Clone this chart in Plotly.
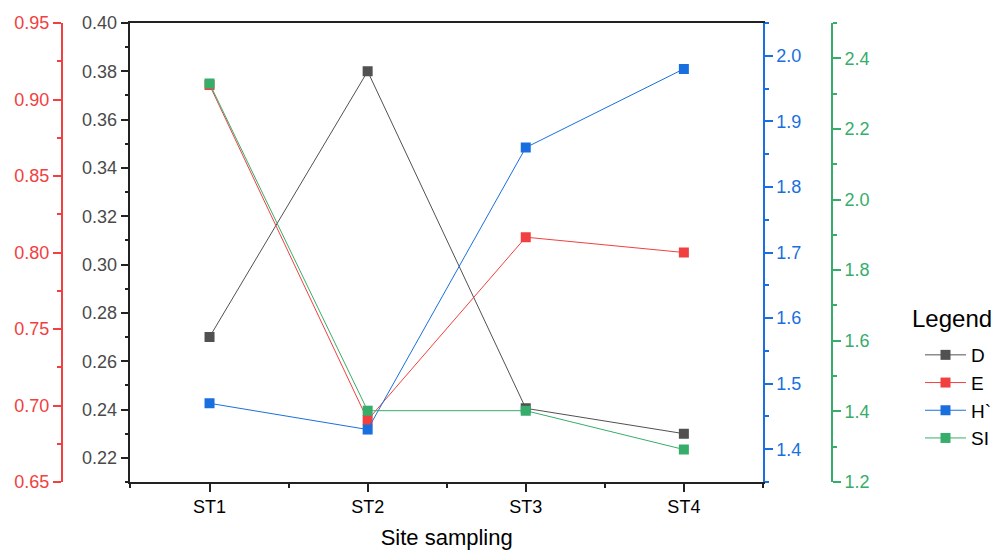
import plotly.graph_objects as go

sites = ["ST1", "ST2", "ST3", "ST4"]
D = [0.270, 0.380, 0.2405, 0.230]
E = [0.9095, 0.6905, 0.810, 0.800]
H = [1.470, 1.430, 1.860, 1.980]
SI = [2.329, 1.402, 1.402, 1.292]

C_D = "#515151"
C_E = "#F14040"
C_H = "#1A6FDF"
C_SI = "#37AD6B"

W, Hh = 997, 550
px0, px1 = 131, 766
py0, py1 = 23, 482
FONT = "Liberation Sans, Arial, sans-serif"

xpos = list(range(len(sites)))

fig = go.Figure()
def add(name, vals, color, yax):
    fig.add_trace(go.Scatter(
        x=xpos, y=vals, name=name, mode="lines+markers", yaxis=yax,
        line=dict(color=color, width=1),
        marker=dict(symbol="square", size=10, color=color, line=dict(width=0)),
    ))

add("D", D, C_D, "y")
add("E", E, C_E, "y2")
add("H`", H, C_H, "y3")
add("SI", SI, C_SI, "y4")

def yax(color, rng, dtick, mdtick, tick0, side, **kw):
    d = dict(
        range=rng, dtick=dtick, tick0=tick0, tickformat=kw.pop("fmt", ".2f"),
        showline=True, linecolor=color, linewidth=1.5,
        ticks="outside", ticklen=8, tickwidth=1.5, tickcolor=color,
        tickfont=dict(family=FONT, size=18, color=kw.pop("fc", color)),
        showgrid=False, zeroline=False, side=side,
        minor=dict(dtick=mdtick, tick0=tick0, ticks="outside", ticklen=4,
                   tickwidth=1.5, tickcolor=color, showgrid=False),
        automargin=False,
    )
    d.update(kw)
    return d

fig.update_layout(
    width=W, height=Hh,
    margin=dict(l=0, r=0, t=0, b=0),
    paper_bgcolor="white", plot_bgcolor="white",
    font=dict(family=FONT, color="black"),
    xaxis=dict(
        domain=[px0 / W, px1 / W],
        range=[-0.5, len(sites) - 0.5],
        tickvals=xpos, ticktext=sites,
        showline=True, linecolor="#222", linewidth=1.5, mirror=True,
        ticks="outside", ticklen=8, tickwidth=1.5, tickcolor="#222",
        tickfont=dict(family=FONT, size=18, color="black"),
        minor=dict(tickvals=[i - 0.5 for i in range(len(sites) + 1)], ticks="outside",
                   ticklen=4, tickwidth=1.5, tickcolor="#222", showgrid=False),
        showgrid=False, zeroline=False,
        title=dict(text="Site sampling", font=dict(family=FONT, size=22, color="black"), standoff=14),
        automargin=False,
    ),
    yaxis=yax("#222", [0.21, 0.40], 0.02, 0.01, 0.20, "left", fc="#4a4a4a",
              domain=[1 - py1 / Hh, 1 - py0 / Hh]),
    yaxis2=yax(C_E, [0.65, 0.95], 0.05, 0.025, 0.65, "left",
               overlaying="y", anchor="free", position=62 / W),
    yaxis3=yax(C_H, [1.35, 2.05], 0.1, 0.05, 1.3, "right", fmt=".1f",
               overlaying="y", anchor="x"),
    yaxis4=yax(C_SI, [1.2, 2.5], 0.2, 0.1, 1.2, "right", fmt=".1f",
               overlaying="y", anchor="free", position=835.5 / W),
    legend=dict(
        x=924 / W, xanchor="left", y=1 - 336 / Hh, yanchor="top",
        font=dict(family=FONT, size=19, color="black"),
        bgcolor="rgba(0,0,0,0)", tracegroupgap=0, itemwidth=41,
    ),
    annotations=[dict(
        text="Legend", xref="paper", yref="paper", x=914 / W, y=1 - 318 / Hh,
        xanchor="left", yanchor="middle", showarrow=False,
        font=dict(family=FONT, size=24, color="black"),
    )],
    showlegend=True,
)

fig.write_html("out.html", post_script="document.body.style.margin='0';",
               config={"displayModeBar": False})
